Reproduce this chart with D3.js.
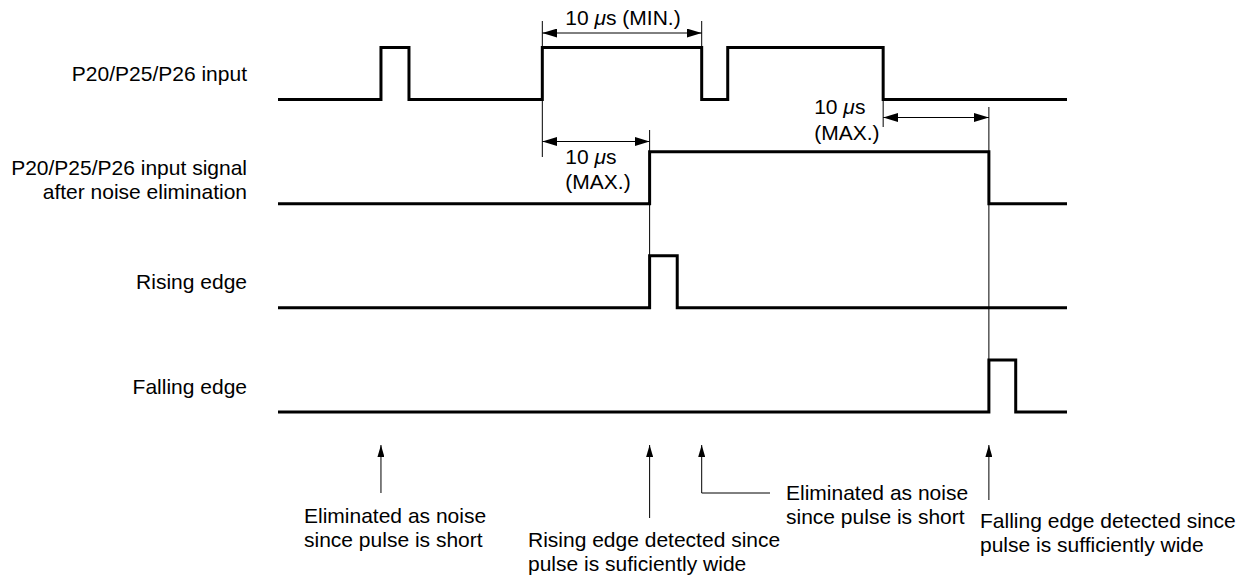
<!DOCTYPE html>
<html>
<head>
<meta charset="utf-8">
<script src="https://cdn.jsdelivr.net/npm/d3@7"></script>
<style>
  html, body { margin: 0; padding: 0; background: #fff; }
  svg { display: block; }
  text { font-family: "Liberation Sans", Arial, Helvetica, sans-serif; font-size: 21px; fill: #000; }
</style>
</head>
<body>
<svg id="chart" width="1247" height="578"></svg>
<script>
// ---------- DATA (time in arbitrary units 0..100 along the time axis) ----------
const signalNames = [
  ["P20/P25/P26 input"],
  ["P20/P25/P26 input signal", "after noise elimination"],
  ["Rising edge"],
  ["Falling edge"]
];
// transition times, starting level 0, each time toggles the level
const inputEdges    = [13.05, 16.6, 33.5, 53.7, 57.0, 76.7];
const filteredEdges = [47.1, 90.1];
const risingEdges   = [47.1, 50.6];
const fallingEdges  = [90.1, 93.5];
const signalEdges = [inputEdges, filteredEdges, risingEdges, fallingEdges];
const timeEnd = 100;

// dimension annotations: [lane, t0, t1, label lines]
const dimMin = { t0: 33.5, t1: 53.7, text: "(MIN.)" };
const dimMaxRise = { t0: 33.5, t1: 47.1, text: "(MAX.)" };
const dimMaxFall = { t0: 76.7, t1: 90.1, text: "(MAX.)" };

// bottom call-outs
const callouts = [
  { t: 13.05, lines: ["Eliminated as noise", "since pulse is short"] },
  { t: 47.1,  lines: ["Rising edge detected since", "pulse is suficiently wide"] },
  { t: 53.7,  lines: ["Eliminated as noise", "since pulse is short"] },
  { t: 90.1,  lines: ["Falling edge detected since", "pulse is sufficiently wide"] }
];

// ---------- SCALES ----------
const svg = d3.select("#chart");
const x = d3.scaleLinear().domain([0, timeEnd]).range([278, 1067]);
const lane = d3.scaleLinear().domain([0, 3]).range([99.5, 412]); // low level of each lane
const levelH = 52;
const y = (i, v) => lane(i) - v * levelH;

// arrow markers
const defs = svg.append("defs");
function marker(id, len, hw, orientStart) {
  defs.append("marker")
    .attr("id", id).attr("markerUnits", "userSpaceOnUse")
    .attr("viewBox", `0 ${-hw} ${len} ${2*hw}`)
    .attr("refX", len).attr("refY", 0)
    .attr("markerWidth", len).attr("markerHeight", 2*hw)
    .attr("orient", orientStart ? "auto-start-reverse" : "auto")
    .append("path").attr("d", `M0,${-hw}L${len},0L0,${hw}Z`).attr("fill", "#000");
}
marker("dimArrow", 15, 4.5, true);
marker("upArrow", 12, 3.5, false);

// ---------- SIGNALS ----------
const stepLine = d3.line().x(d => x(d.t)).y(d => d.y).curve(d3.curveStepAfter);
signalEdges.forEach((edges, i) => {
  const pts = [{ t: 0, y: y(i, 0) }];
  let lvl = 0;
  edges.forEach(t => { lvl = 1 - lvl; pts.push({ t, y: y(i, lvl) }); });
  pts.push({ t: timeEnd, y: y(i, lvl) });
  svg.append("path").attr("d", stepLine(pts))
    .attr("fill", "none").attr("stroke", "#000").attr("stroke-width", 3)
    .attr("stroke-linejoin", "miter").attr("stroke-linecap", "butt");
});

// ---------- LABELS ----------
signalNames.forEach((lines, i) => {
  const base = lane(i) - (lines.length === 1 ? 18.5 : 28.5);
  const t = svg.append("text").attr("text-anchor", "end");
  lines.forEach((s, k) => t.append("tspan").attr("x", 247).attr("y", base + k * 24).text(s));
});

// ---------- DIMENSIONS ----------
function vline(t, y1, y2) {
  svg.append("line").attr("x1", x(t)).attr("x2", x(t)).attr("y1", y1).attr("y2", y2)
    .attr("stroke", "#000").attr("stroke-width", 1);
}
function dimArrow(d, yy) {
  svg.append("line").attr("x1", x(d.t0)).attr("x2", x(d.t1)).attr("y1", yy).attr("y2", yy)
    .attr("stroke", "#000").attr("stroke-width", 1)
    .attr("marker-start", "url(#dimArrow)").attr("marker-end", "url(#dimArrow)");
}
function muText(g, tx, ty, anchor) {
  const t = svg.append("text").attr("x", tx).attr("y", ty).attr("text-anchor", anchor);
  t.append("tspan").text("10 ");
  t.append("tspan").attr("font-style", "italic").text("μ");
  t.append("tspan").text("s" + (g ? " " + g : ""));
  return t;
}
// 10 us (MIN.)
vline(dimMin.t0, 21, 157);
vline(dimMin.t1, 21, y(0, 1));
dimArrow(dimMin, 33);
muText(dimMin.text, (x(dimMin.t0) + x(dimMin.t1)) / 2 + 1, 25, "middle");
// 10 us (MAX.) rising
vline(dimMaxRise.t1, 130, y(2, 1));
dimArrow(dimMaxRise, 141.5);
muText(null, x(dimMaxRise.t0) + 23, 164, "start");
svg.append("text").attr("x", x(dimMaxRise.t0) + 23).attr("y", 189).text(dimMaxRise.text);
// 10 us (MAX.) falling
vline(dimMaxFall.t0, y(0, 0), 127);
vline(dimMaxFall.t1, 107, y(3, 1));
dimArrow(dimMaxFall, 117.5);
muText(null, x(dimMaxFall.t0) - 69, 114, "start");
svg.append("text").attr("x", x(dimMaxFall.t0) - 69).attr("y", 140).text(dimMaxFall.text);

// ---------- CALL-OUTS ----------
const tipY = 445;
const calloutGeom = [
  { bottom: 493, tx: 304, ty: 523 },
  { bottom: 518, tx: 528, ty: 547 },
  { bottom: 493, tx: 786, ty: 500, leaderTo: 770 },
  { bottom: 500, tx: 980, ty: 528 }
];
callouts.forEach((c, i) => {
  const g = calloutGeom[i];
  const cx = x(c.t);
  let d = `M${g.leaderTo ? g.leaderTo : cx},${g.bottom}`;
  if (g.leaderTo) d += `L${cx},${g.bottom}`;
  d += `L${cx},${tipY}`;
  svg.append("path").attr("d", d).attr("fill", "none").attr("stroke", "#000")
    .attr("stroke-width", 1).attr("marker-end", "url(#upArrow)");
  const t = svg.append("text");
  c.lines.forEach((s, k) => t.append("tspan").attr("x", g.tx).attr("y", g.ty + k * 24).text(s));
});
</script>
</body>
</html>
